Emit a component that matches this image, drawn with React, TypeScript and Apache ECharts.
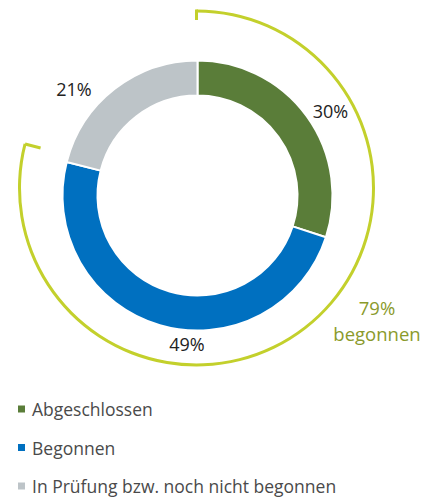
import React, { useEffect, useRef } from "react";
import * as echarts from "echarts";

const categories = ["Abgeschlossen", "Begonnen", "In Prüfung bzw. noch nicht begonnen"];
const values = [30, 49, 21];
const colors = ["#5a7d39", "#0070c0", "#bdc4c8"];
const startedIdx = [0, 1]; // segments counted as "begonnen"
const startedLabel = "begonnen";

const ARC_COLOR = "#c3d02c";
const TEXT_OLIVE = "#8a9a2b";
const FONT = "'Open Sans', 'Noto Sans', sans-serif";

// label anchor points (layout)
const labelPos = [
  [330.5, 111],
  [187, 344],
  [74, 89],
];

export default function App() {
  const ref = useRef<HTMLDivElement>(null);

  useEffect(() => {
    document.body.style.margin = "0";
    const chart = echarts.init(ref.current!, null, { renderer: "svg" });

    const total = values.reduce((a, b) => a + b, 0);
    const started = startedIdx.reduce((a, i) => a + values[i], 0);
    const startedPct = Math.round((started / total) * 100);

    const cx = 196.5;
    const cy = 188;
    const r = 177;
    const theta = (started / total) * Math.PI * 2;
    const endOuter = [cx + r * Math.sin(theta), cy - r * Math.cos(theta)];
    const endInner = [cx + (r - 16) * Math.sin(theta), cy - (r - 16) * Math.cos(theta)];

    chart.setOption({
      animation: false,
      legend: {
        data: categories,
        orient: "vertical",
        left: 18,
        top: 400,
        padding: 0,
        icon: "rect",
        itemWidth: 7,
        itemHeight: 7,
        itemGap: 20.5,
        itemStyle: { borderWidth: 0 },
        textStyle: {
          fontFamily: FONT,
          fontSize: 17.5,
          lineHeight: 18,
          color: "#4a4a4a",
          padding: [0, 0, 0, 2],
        },
      },
      series: [
        {
          type: "pie",
          center: [197.5, 195.5],
          radius: [100, 135],
          startAngle: 90,
          clockwise: true,
          silent: true,
          itemStyle: { borderColor: "#ffffff", borderWidth: 2 },
          label: {
            show: true,
            position: "outside",
            formatter: "{c}%",
            fontFamily: FONT,
            fontSize: 18,
            color: "#222222",
          },
          labelLine: { show: false },
          labelLayout: (p: any) => ({
            x: labelPos[p.dataIndex][0],
            y: labelPos[p.dataIndex][1],
            align: "center",
            verticalAlign: "middle",
          }),
          data: categories.map((name, i) => ({
            name,
            value: values[i],
            itemStyle: { color: colors[i] },
          })),
        },
        {
          type: "pie",
          center: [cx, cy],
          radius: [r - 1.5, r + 1.5],
          startAngle: 90,
          clockwise: true,
          silent: true,
          label: { show: false },
          labelLine: { show: false },
          itemStyle: { borderWidth: 0 },
          data: [
            { name: "_started", value: started, itemStyle: { color: ARC_COLOR } },
            { name: "_rest", value: total - started, itemStyle: { color: "rgba(0,0,0,0)" } },
          ],
        },
      ],
      graphic: [
        {
          type: "line",
          shape: { x1: cx, y1: cy - r - 1.5, x2: cx, y2: cy - r + 9 },
          style: { stroke: ARC_COLOR, lineWidth: 3 },
          silent: true,
        },
        {
          type: "line",
          shape: { x1: endOuter[0], y1: endOuter[1], x2: endInner[0], y2: endInner[1] },
          style: { stroke: ARC_COLOR, lineWidth: 3 },
          silent: true,
        },
        {
          type: "text",
          x: 377,
          y: 320,
          style: {
            text: `${startedPct}%\n${startedLabel}`,
            fontFamily: FONT,
            fontSize: 18.5,
            lineHeight: 26,
            fill: TEXT_OLIVE,
            align: "center",
            verticalAlign: "middle",
          },
          silent: true,
        },
      ],
    });

    return () => chart.dispose();
  }, []);

  return <div ref={ref} style={{ width: 432, height: 497 }} />;
}
